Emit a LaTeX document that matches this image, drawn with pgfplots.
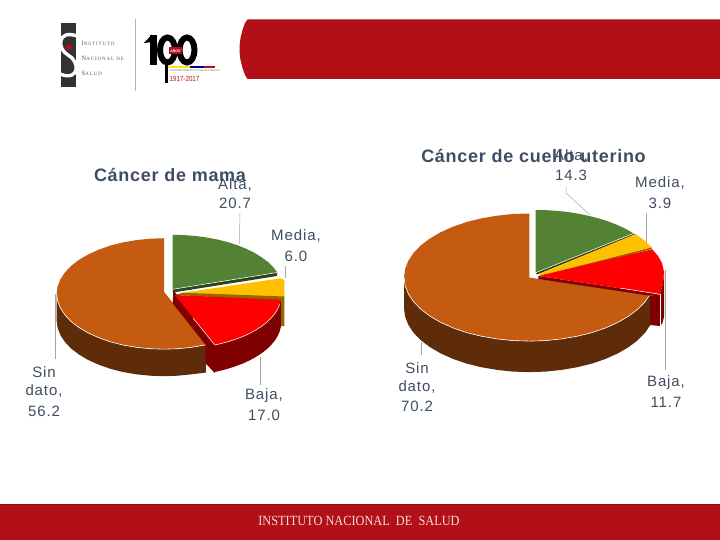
\documentclass[border=0pt]{standalone}
\usepackage{pgfplots}
\usepackage{fontspec}
\pgfplotsset{compat=1.18}
\setmainfont{Liberation Sans}
\newfontfamily\lab[LetterSpace=6]{Liberation Sans}
\newfontfamily\ttl[LetterSpace=4]{Liberation Sans}
\newfontfamily\srf{Liberation Serif}
\newfontfamily\srfs[LetterSpace=18]{Liberation Serif}
\definecolor{txt}{HTML}{3F4D63}
\definecolor{ora}{HTML}{C55A11}
\definecolor{oras}{HTML}{5F2C0A}
\definecolor{gre}{HTML}{548235}
\definecolor{gres}{HTML}{2C4419}
\definecolor{gol}{HTML}{FFC000}
\definecolor{gols}{HTML}{8F6A00}
\definecolor{reds}{HTML}{7F0000}
\definecolor{brand}{HTML}{B30F17}
\definecolor{lead}{HTML}{A6A6A6}
\tikzset{
 lb/.style={anchor=center,text=txt,inner sep=0pt,font=\lab\fontsize{15}{18}\selectfont},
 tt/.style={anchor=center,text=txt,inner sep=0pt,font=\ttl\bfseries\fontsize{18}{20}\selectfont},
 sm/.style={anchor=west,text=black!65,inner sep=0pt,font=\srfs\fontsize{6.5}{7}\selectfont}
}
\begin{document}
\begin{tikzpicture}
\begin{axis}[scale only axis,width=720pt,height=540pt,xmin=0,xmax=720,ymin=0,ymax=540,y dir=reverse,axis lines=none,clip=true]
% page
\addplot[fill=white,draw=none] coordinates {(0,0)(720,0)(720,540)(0,540)} --cycle;
% header and footer
\addplot[fill=brand,draw=none] coordinates {(720,19.5)(247.5,19.5)(245,23)(242.5,30)(240.5,38)(239.5,46)(239.5,52)(240.5,60)(242.5,68)(245,75)(247.5,79)(720,79)} --cycle;
\addplot[fill=brand,draw=none] coordinates {(0,504)(720,504)(720,540)(0,540)} --cycle;
\addplot[draw=brand!80!black,line width=1.2pt] coordinates {(0,504.5)(720,504.5)};
% logo
\fill[black!80] (axis cs:61,23) rectangle (axis cs:76,87);
\draw[white,line width=3.4pt] (axis cs:77,36) .. controls (axis cs:57,29) and (axis cs:57,49) .. (axis cs:68,55) .. controls (axis cs:80,61) and (axis cs:80,82) .. (axis cs:60,74);
\fill[brand] (axis cs:69,47.3) circle[radius=3];
\draw[black!30,line width=0.6pt] (axis cs:135.5,19) -- (axis cs:135.5,91);
\node[sm] at (axis cs:81.5,43.5) {I{\fontsize{5}{6}\selectfont NSTITUTO}};
\node[sm] at (axis cs:81.5,58) {N{\fontsize{5}{6}\selectfont ACIONAL DE}};
\node[sm] at (axis cs:81.5,73) {S{\fontsize{5}{6}\selectfont ALUD}};
\fill[black] (axis cs:150,35) rectangle (axis cs:157,65);
\fill[black] (axis cs:144,43) -- (axis cs:152,34.5) -- (axis cs:153,42) -- cycle;
\draw[black,line width=6pt] (axis cs:167.5,50) ellipse[x radius=7.5,y radius=12.5];
\draw[black,line width=6pt] (axis cs:187,50) ellipse[x radius=7.5,y radius=12.5];
\fill[black] (axis cs:164.5,63) rectangle (axis cs:167.5,83);
\fill[brand] (axis cs:169,47) rectangle (axis cs:182,54);
\node[white,inner sep=0pt,font=\bfseries\fontsize{3.5}{4}\selectfont] at (axis cs:175.5,50.5) {AÑOS};
\fill[yellow!90!orange] (axis cs:168,65.8) rectangle (axis cs:190,67.8);
\fill[blue!60!black] (axis cs:190,65.8) rectangle (axis cs:204,67.8);
\fill[brand] (axis cs:204,65.8) rectangle (axis cs:215,67.8);
\node[anchor=west,inner sep=0pt,text=black!60,font=\fontsize{2.6}{3}\selectfont] at (axis cs:169,70.5) {CONTRIBUYENDO A LA SALUD PÚBLICA};
\node[anchor=west,inner sep=0pt,text=brand,yscale=1.2,font=\fontsize{6.2}{8}\selectfont] at (axis cs:169.5,78.5) {1917-2017};
\node[inner sep=0pt,text=white!85!brand,font=\srf\fontsize{14}{16}\selectfont,xscale=0.88] at (axis cs:359,521) {INSTITUTO NACIONAL\ \ DE\ \ SALUD};

% ---------- left pie ----------
% leaders
\addplot[lead,line width=0.5pt] coordinates {(240,213)(239.3,244)};
\addplot[lead,line width=0.5pt] coordinates {(285.3,266)(285.3,278)};
\addplot[lead,line width=0.5pt] coordinates {(55.7,294)(55.7,359)};
\addplot[lead,line width=0.5pt] coordinates {(260.7,357)(260.7,385)};
% orange side
\addplot[fill=oras,draw=none] coordinates {(205.9,344.8)(191.8,347.3)(178,348.7)(164,349.2)(150,348.7)(136.2,347.3)(122.9,345)(110.3,341.8)(98.7,337.7)(88.1,332.9)(78.9,327.5)(71.1,321.5)(64.9,314.9)(60.4,308.1)(57.6,300.9)(56.7,293.7)(56.7,320.7)(57.6,327.9)(60.4,335.1)(64.9,341.9)(71.1,348.5)(78.9,354.5)(88.1,359.9)(98.7,364.7)(110.3,368.8)(122.9,372)(136.2,374.3)(150,375.7)(164,376.2)(178,375.7)(191.8,374.3)(205.9,372.6)} --cycle;
% orange top
\addplot[fill=ora,draw=none] coordinates {(164,291.7)(205.9,344.8)(191.8,347.3)(178,348.7)(164,349.2)(150,348.7)(136.2,347.3)(122.9,345)(110.3,341.8)(98.7,337.7)(88.1,332.9)(78.9,327.5)(71.1,321.5)(64.9,314.9)(60.4,308.1)(57.6,300.9)(56.7,293.7)(57.6,286.5)(60.4,279.3)(64.9,272.5)(71.1,265.9)(78.9,259.9)(88.1,254.5)(98.7,249.7)(110.3,245.6)(122.9,242.4)(136.2,240.1)(150,238.7)(164,238.2)} --cycle;
\addplot[white,line width=0.6pt] coordinates {(205.9,344.8)(191.8,347.3)(178,348.7)(164,349.2)(150,348.7)(136.2,347.3)(122.9,345)(110.3,341.8)(98.7,337.7)(88.1,332.9)(78.9,327.5)(71.1,321.5)(64.9,314.9)(60.4,308.1)(57.6,300.9)(56.7,293.7)};
% green
\addplot[fill=gres,draw=none] coordinates {(172.7,289.3)(277.3,272.5)(277,276)(173,292.5)} --cycle;
\addplot[fill=gre,draw=none] coordinates {(172.7,289.3)(172.7,234.8)(184.2,235.1)(195.6,236)(206.7,237.5)(217.4,239.5)(227.7,242.1)(237.4,245.2)(246.3,248.8)(254.4,252.8)(261.7,257.3)(268,262)(273.2,267.1)(277.3,272.5)} --cycle;
\addplot[white,line width=0.5pt] coordinates {(172.7,289.3)(277.3,272.5)};
% gold
\addplot[fill=gols,draw=none] coordinates {(280.7,299.3)(284.3,298)(284.3,326)(280.7,326)} --cycle;
\addplot[fill=gol,draw=none] coordinates {(183,292.7)(280.7,278.3)(282.5,279)(284.3,280.5)(284.5,290)(284.3,298)} --cycle;
\addplot[fill=gols,draw=none] coordinates {(175,295)(183,292.7)(284.3,296.5)(284.3,298)(280.9,300.5)} --cycle;
% red
\addplot[fill=reds,draw=none] coordinates {(280.9,299.7)(279.7,304.4)(277.7,309)(274.9,313.5)(271.3,317.8)(267,322)(262,326)(256.3,329.7)(250,333.2)(243.1,336.4)(235.7,339.2)(227.8,341.8)(219.6,343.9)(214.4,345)(214.4,372)(219.6,370.9)(227.8,368.8)(235.7,366.2)(243.1,363.4)(250,360.2)(256.3,356.7)(262,353)(267,349)(271.3,344.8)(274.9,340.5)(277.7,336)(279.7,331.4)(280.9,326.7)} --cycle;
\addplot[fill=reds,draw=none] coordinates {(173.3,290)(172.7,303.3)(205.7,345)(205.7,363.5)(214.8,373)(214.8,345)} --cycle;
\addplot[fill=red,draw=none] coordinates {(175,295)(280.9,299.7)(279.7,304.4)(277.7,309)(274.9,313.5)(271.3,317.8)(267,322)(262,326)(256.3,329.7)(250,333.2)(243.1,336.4)(235.7,339.2)(227.8,341.8)(219.6,343.9)(214.8,345)} --cycle;
\addplot[white,line width=0.5pt] coordinates {(193,318)(214.8,345)(219.6,343.9)(227.8,341.8)(235.7,339.2)(243.1,336.4)(250,333.2)(256.3,329.7)(262,326)(267,322)(271.3,317.8)(274.9,313.5)(277.7,309)(279.7,304.4)};

% ---------- right pie ----------
\addplot[lead,line width=0.5pt] coordinates {(566,187)(566,193)(590,215)};
\addplot[lead,line width=0.5pt] coordinates {(646.7,213)(646.7,241.7)};
\addplot[lead,line width=0.5pt] coordinates {(421.7,342)(421.7,355)};
\addplot[lead,line width=0.5pt] coordinates {(665,270)(665,370)};
% orange side
\addplot[fill=oras,draw=none] coordinates {(650,294.5)(645.1,301.7)(637.8,309.2)(628.7,316.1)(617.9,322.4)(605.6,327.9)(592,332.6)(577.3,336.2)(561.7,338.9)(545.7,340.6)(529.3,341.1)(512.9,340.6)(496.9,338.9)(481.3,336.2)(466.6,332.6)(453,327.9)(440.7,322.4)(429.9,316.1)(420.8,309.2)(413.5,301.7)(408.3,293.8)(405.1,285.6)(404,277.3)(404,308.3)(405.1,316.6)(408.3,324.8)(413.5,332.7)(420.8,340.2)(429.9,347.1)(440.7,353.4)(453,358.9)(466.6,363.6)(481.3,367.2)(496.9,369.9)(512.9,371.6)(529.3,372.1)(545.7,371.6)(561.7,369.9)(577.3,367.2)(592,363.6)(605.6,358.9)(617.9,353.4)(628.7,347.1)(637.8,340.2)(645.1,332.7)(650,325.5)} --cycle;
% orange top
\addplot[fill=ora,draw=none] coordinates {(529.3,277.6)(650,294.5)(645.1,301.7)(637.8,309.2)(628.7,316.1)(617.9,322.4)(605.6,327.9)(592,332.6)(577.3,336.2)(561.7,338.9)(545.7,340.6)(529.3,341.1)(512.9,340.6)(496.9,338.9)(481.3,336.2)(466.6,332.6)(453,327.9)(440.7,322.4)(429.9,316.1)(420.8,309.2)(413.5,301.7)(408.3,293.8)(405.1,285.6)(404,277.3)(405.1,269)(408.3,260.8)(413.5,252.9)(420.8,245.4)(429.9,238.5)(440.7,232.2)(453,226.7)(466.6,222)(481.3,218.4)(496.9,215.7)(512.9,214)(529.3,213.5)} --cycle;
\addplot[white,line width=0.6pt] coordinates {(650,294.5)(645.1,301.7)(637.8,309.2)(628.7,316.1)(617.9,322.4)(605.6,327.9)(592,332.6)(577.3,336.2)(561.7,338.9)(545.7,340.6)(529.3,341.1)(512.9,340.6)(496.9,338.9)(481.3,336.2)(466.6,332.6)(453,327.9)(440.7,322.4)(429.9,316.1)(420.8,309.2)(413.5,301.7)(408.3,293.8)(405.1,285.6)(404,277.3)};
% green
\addplot[fill=gres,draw=none] coordinates {(535.7,272.7)(634.3,233.3)(635,235)(537,274.5)} --cycle;
\addplot[fill=gre,draw=none] coordinates {(535.7,272.7)(535.7,210)(546.7,210.2)(557.6,210.9)(568.3,212.1)(578.8,213.8)(589,215.9)(598.7,218.4)(608,221.3)(616.7,224.7)(624.8,228.4)(633.6,233.3)} --cycle;
\addplot[white,line width=0.5pt] coordinates {(535.7,272.7)(634,233.3)};
% gold
\addplot[fill=gols,draw=none] coordinates {(541,275.5)(651.7,247.2)(652,249)(545,276.5)} --cycle;
\addplot[fill=gol,draw=none] coordinates {(539,274)(635.5,234)(644,240)(651.7,247.2)(541,275.5)} --cycle;
% red
\addplot[fill=reds,draw=none] coordinates {(650,295.7)(660,294.3)(660,326)(650,325)} --cycle;
\addplot[fill=reds,draw=none] coordinates {(660,294.3)(663,283)(664,271.7)(664,316.7)(662.5,323)(660,326)} --cycle;
\addplot[white,line width=0.5pt] coordinates {(660,294.3)(660,326)};
\addplot[fill=reds,draw=none] coordinates {(538.3,276)(660,294.3)(650,295.7)(538.3,279)} --cycle;
\addplot[fill=red,draw=none] coordinates {(538.3,276)(652.3,249.3)(658,256)(662,263)(664,271.7)(663,283)(660,294.3)} --cycle;
\addplot[white,line width=0.5pt] coordinates {(620,288)(660,294.3)};

% ---------- texts ----------
\node[tt] at (axis cs:170,175) {Cáncer de mama};
\node[tt] at (axis cs:533.5,156) {Cáncer de cuello uterino};
\node[lb] at (axis cs:235,185) {Alta,};
\node[lb] at (axis cs:235,203.5) {20.7};
\node[lb] at (axis cs:296,236.5) {Media,};
\node[lb] at (axis cs:296,256) {6.0};
\node[lb] at (axis cs:44,372.5) {Sin};
\node[lb] at (axis cs:44,391.5) {dato,};
\node[lb] at (axis cs:44,411) {56.2};
\node[lb] at (axis cs:264,395.5) {Baja,};
\node[lb] at (axis cs:264,415) {17.0};
\node[lb] at (axis cs:571,156) {Alta,};
\node[lb] at (axis cs:571,175.5) {14.3};
\node[lb] at (axis cs:660,183.5) {Media,};
\node[lb] at (axis cs:660,203) {3.9};
\node[lb] at (axis cs:417,368.5) {Sin};
\node[lb] at (axis cs:417,387.5) {dato,};
\node[lb] at (axis cs:417,406.5) {70.2};
\node[lb] at (axis cs:666,382.5) {Baja,};
\node[lb] at (axis cs:666,402) {11.7};
\end{axis}
\end{tikzpicture}
\end{document}
